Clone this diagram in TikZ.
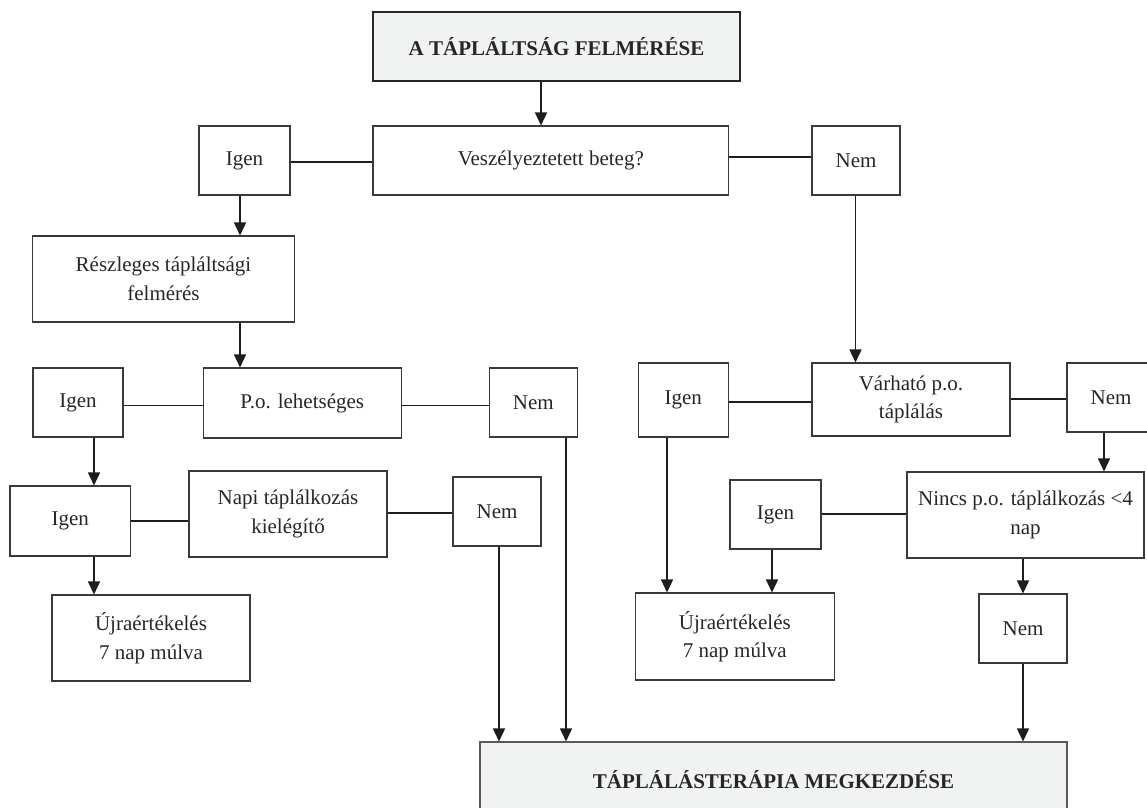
\documentclass[tikz,border=0pt]{standalone}
\usepackage{fontspec}
\setmainfont{Liberation Serif}
\usetikzlibrary{arrows.meta}
\definecolor{boxgray}{HTML}{F1F2F2}
\definecolor{edgegray}{HTML}{3A3A3A}
\definecolor{linecol}{HTML}{1E1E1E}
\tikzset{
  bx/.style={draw=edgegray, line width=1.1pt, inner sep=0pt, align=center,
    font=\fontsize{21}{28.5}\selectfont, text=black!85},
  titlebox/.style={bx, line width=2.6pt, draw=black!85, fill=boxgray, font=\fontsize{21}{28.5}\selectfont\bfseries},
  finalbox/.style={bx, draw=black!65, fill=boxgray, font=\fontsize{21}{28.5}\selectfont\bfseries},
  conn/.style={draw=linecol, line width=1.5pt},
  arr/.style={conn, -{Triangle[length=13pt,width=12pt]}}
}
\begin{document}
\begin{tikzpicture}[x=1pt,y=-1pt]
\useasboundingbox (0,0) rectangle (1147,807);
% nodes
\node[titlebox, minimum width=367, minimum height=69] (title) at (556.5,46.5) {A TÁPLÁLTSÁG FELMÉRÉSE};
\node[bx, minimum width=355.6, minimum height=69] (vesz) at (550.8,160.5) {Veszélyeztetett beteg?};
\node[bx, minimum width=91, minimum height=69] (igen1) at (244.5,160.5) {Igen};
\node[bx, minimum width=88, minimum height=69] (nem1) at (856,160.5) {Nem};
\node[bx, minimum width=262, minimum height=86] (resz) at (163.5,279) {Részleges tápláltsági\\felmérés};
\node[bx, minimum width=90, minimum height=69] (igen2) at (78,402.5) {Igen};
\node[bx, minimum width=197.5, minimum height=70] (po) at (302.3,403) {P.o. lehetséges};
\node[bx, minimum width=88.5, minimum height=69] (nem2) at (533.3,402.5) {Nem};
\node[bx, minimum width=120.6, minimum height=70] (igen3) at (70.3,521) {Igen};
\node[bx, minimum width=198, minimum height=86] (napi) at (288,514) {Napi táplálkozás\\kielégítő};
\node[bx, minimum width=88, minimum height=69] (nem3) at (497,511.5) {Nem};
\node[bx, minimum width=198, minimum height=86] (ujra1) at (151,638) {Újraértékelés\\7 nap múlva};
\node[bx, minimum width=90.5, minimum height=74] (igen4) at (683.3,400) {Igen};
\node[bx, minimum width=198, minimum height=73] (varh) at (911,399.5) {Várható p.o.\\táplálás};
\node[bx, minimum width=88, minimum height=69] (nem4) at (1111,397.5) {Nem};
\node[bx, minimum width=91, minimum height=69] (igen5) at (775.5,514.5) {Igen};
\node[bx, minimum width=237, minimum height=86] (nincs) at (1025.5,515) {Nincs p.o. táplálkozás <4\\nap};
\node[bx, minimum width=198.5, minimum height=87] (ujra2) at (734.8,636.5) {Újraértékelés\\7 nap múlva};
\node[bx, minimum width=88, minimum height=69] (nem5) at (1023,628.5) {Nem};
\node[finalbox, minimum width=587, minimum height=76] (final) at (773.5,780) {TÁPLÁLÁSTERÁPIA MEGKEZDÉSE};
% horizontal connectors
\draw[conn] (igen1.east |- 0,162) -- (vesz.west |- 0,162);
\draw[conn] (vesz.east |- 0,157) -- (nem1.west |- 0,157);
\draw[conn] (igen2.east |- 0,405.5) -- (po.west |- 0,405.5);
\draw[conn] (po.east |- 0,405.5) -- (nem2.west |- 0,405.5);
\draw[conn] (igen3.east |- 0,521) -- (napi.west |- 0,521);
\draw[conn] (napi.east |- 0,513) -- (nem3.west |- 0,513);
\draw[conn] (igen4.east |- 0,402) -- (varh.west |- 0,402);
\draw[conn] (varh.east |- 0,399) -- (nem4.west |- 0,399);
\draw[conn] (igen5.east |- 0,514) -- (nincs.west |- 0,514);
% vertical arrows
\draw[arr] (title.south -| 541,0) -- (vesz.north -| 541,0);
\draw[arr] (igen1.south -| 240,0) -- (resz.north -| 240,0);
\draw[arr] (resz.south -| 240,0) -- (po.north -| 240,0);
\draw[arr] (nem1.south -| 855.5,0) -- (varh.north -| 855.5,0);
\draw[arr] (igen2.south -| 94,0) -- (igen3.north -| 94,0);
\draw[arr] (igen3.south -| 94,0) -- (ujra1.north -| 94,0);
\draw[arr] (nem3.south -| 499,0) -- (final.north -| 499,0);
\draw[arr] (nem2.south -| 566,0) -- (final.north -| 566,0);
\draw[arr] (igen4.south -| 667,0) -- (ujra2.north -| 667,0);
\draw[arr] (igen5.south -| 772,0) -- (ujra2.north -| 772,0);
\draw[arr] (nem4.south -| 1104,0) -- (nincs.north -| 1104,0);
\draw[arr] (nincs.south -| 1023,0) -- (nem5.north -| 1023,0);
\draw[arr] (nem5.south -| 1023,0) -- (final.north -| 1023,0);
\end{tikzpicture}
\end{document}
